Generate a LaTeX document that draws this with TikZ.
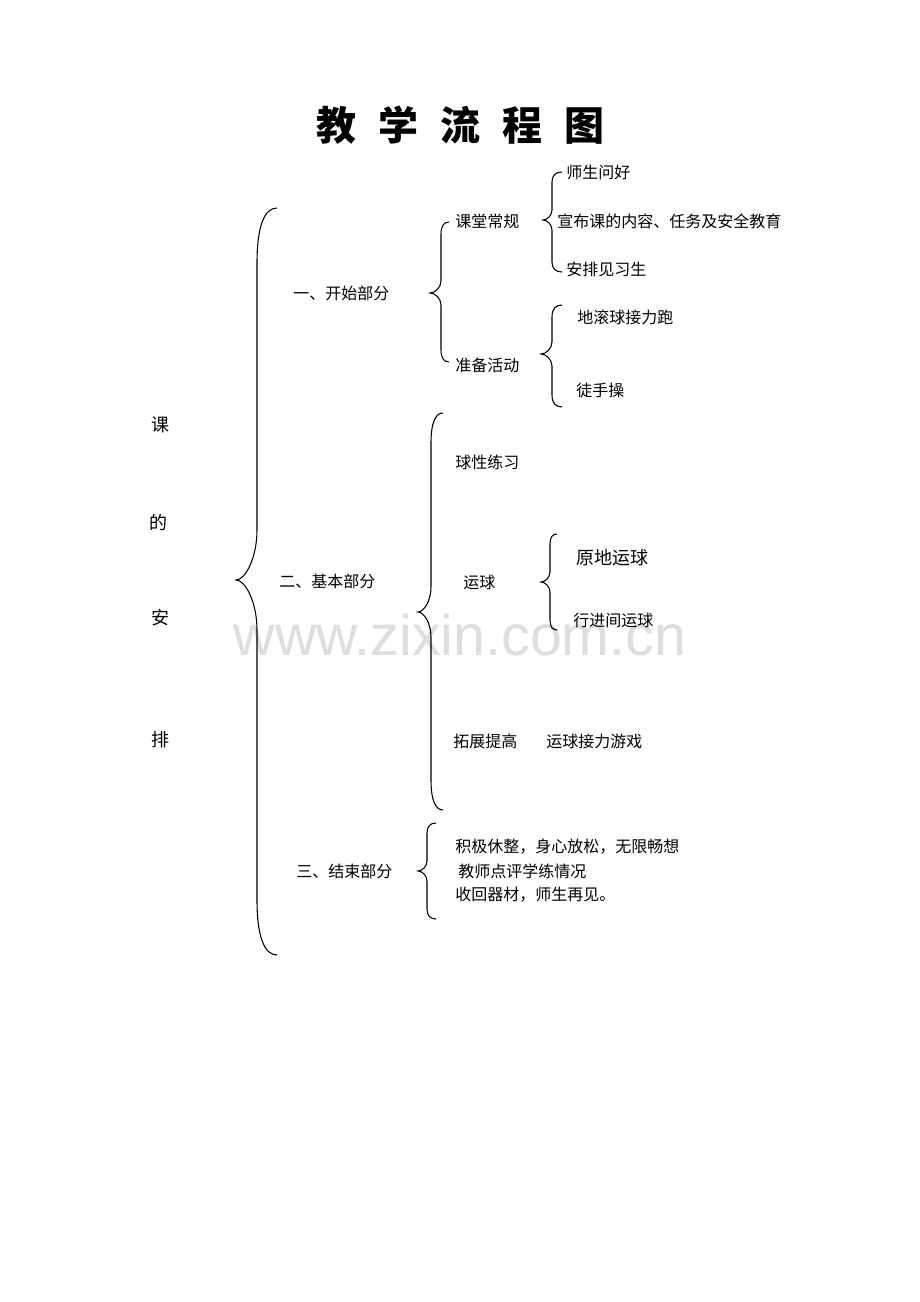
\documentclass[tikz,border=0pt]{standalone}
\usepackage{fontspec}
\newfontfamily\cjk{Noto Sans CJK SC}
\newfontfamily\wmfont{Liberation Sans}
\newcommand\brc[8]{%
\draw[brcline] (#1,#4) .. controls ({#2+0.35*(#1-#2)},#4) and (#2,{#4+0.35*#7}) .. (#2,{#4+#7})
 -- (#2,{#5-#8}) .. controls (#2,{#5-0.45*#8}) and ({#3+0.45*(#2-#3)},#5) .. (#3,#5)
 .. controls ({#3+0.45*(#2-#3)},#5) and (#2,{#5+0.45*#8}) .. (#2,{#5+#8})
 -- (#2,{#6-#7}) .. controls (#2,{#6-0.35*#7}) and ({#2+0.35*(#1-#2)},#6) .. (#1,#6);}
\begin{document}
\begin{tikzpicture}[x=0.75pt,y=-0.75pt,
  brcline/.style={line width=0.8pt,black},
  txt/.style={inner sep=0pt,anchor=west,font=\cjk\fontsize{12}{14}\selectfont},
  big/.style={inner sep=0pt,anchor=west,font=\cjk\fontsize{13.5}{16}\selectfont},
  side/.style={inner sep=0pt,font=\cjk\fontsize{13.5}{16}\selectfont}]
\useasboundingbox (0,0) rectangle (920,1302);
\fill[white] (0,0) rectangle (920,1302);
% watermark
\node[text=black!13,font=\wmfont\fontsize{43}{43}\selectfont,inner sep=0pt] (wm) at (460,635) {www.zixin.com.cn};
% title
\node[inner sep=0pt,font=\cjk\bfseries\fontsize{30}{34}\selectfont] (title) at (460,125) {教\hspace{0.55em}学\hspace{0.55em}流\hspace{0.55em}程\hspace{0.55em}图};
% left column
\node[side] (k1) at (160,425) {课};
\node[side] (k2) at (158,522) {的};
\node[side] (k3) at (160,618) {安};
\node[side] (k4) at (160,740) {排};
% braces
\brc{277}{257}{236}{208}{580}{955}{55}{50}
\brc{449}{441}{430}{222}{293}{362}{12}{12}
\brc{562}{552}{543}{172}{220}{272}{10}{10}
\brc{562}{552}{541}{305}{354}{407}{12}{12}
\brc{443}{431}{418}{413}{612}{810}{30}{25}
\brc{557}{550}{541}{534}{582}{630}{10}{10}
\brc{436}{427}{418}{823}{871}{919}{10}{10}
% level 1
\node[txt] (p1) at (293,293) {一、开始部分};
\node[txt] (p2) at (279,581) {二、基本部分};
\node[txt] (p3) at (296,871) {三、结束部分};
% level 2
\node[txt] (a1) at (455,221) {课堂常规};
\node[txt] (a2) at (455,365) {准备活动};
\node[txt] (b1) at (455,462) {球性练习};
\node[txt] (b2) at (463,582) {运球};
\node[txt] (b3) at (453,741) {拓展提高};
\node[txt] (b4) at (546,741) {运球接力游戏};
\node[txt] (c1) at (455,847) {积极休整，身心放松，无限畅想};
\node[txt] (c2) at (458,871) {教师点评学练情况};
\node[txt] (c3) at (455,895) {收回器材，师生再见。};
% level 3
\node[txt] (a11) at (566,172) {师生问好};
\node[txt] (a12) at (557,221) {宣布课的内容、任务及安全教育};
\node[txt] (a13) at (566,269) {安排见习生};
\node[txt] (a21) at (577,317) {地滚球接力跑};
\node[txt] (a22) at (576,390) {徒手操};
\node[big] (b21) at (576,558) {原地运球};
\node[txt] (b22) at (573,620) {行进间运球};
\end{tikzpicture}
\end{document}
